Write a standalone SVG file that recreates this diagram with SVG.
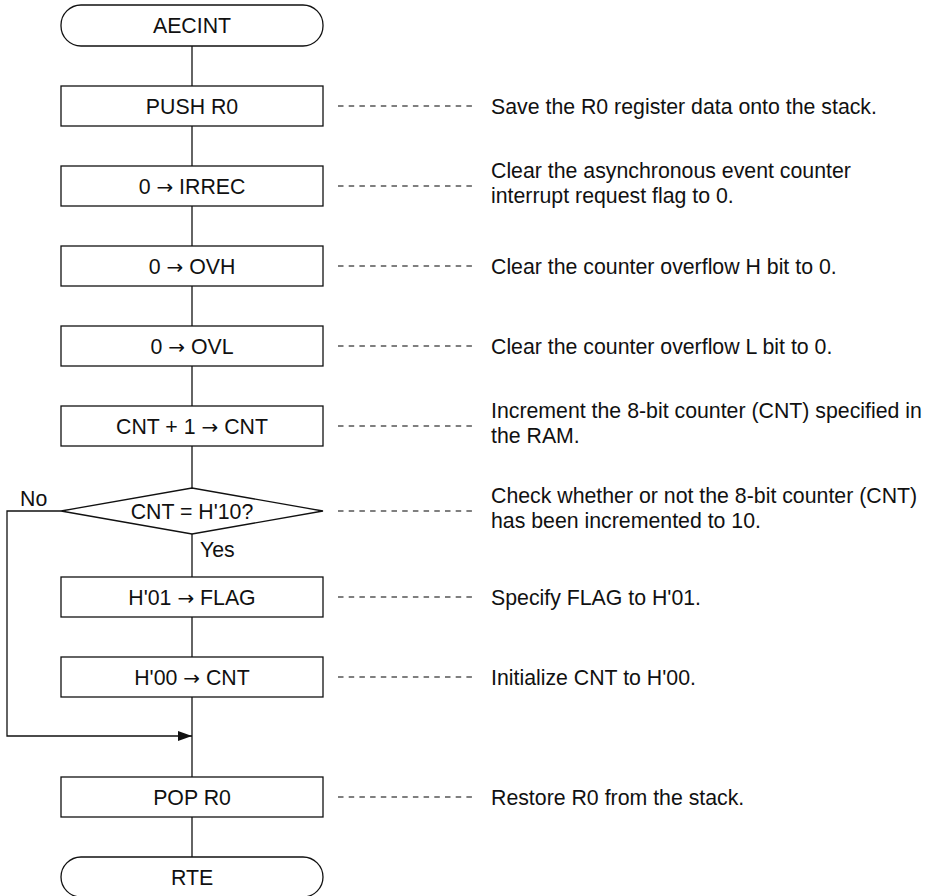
<svg xmlns="http://www.w3.org/2000/svg" width="933" height="896" viewBox="0 0 933 896">
  <style>
    .shape { fill: #fff; stroke: #111; stroke-width: 1.3; }
    .flow { fill: none; stroke: #111; stroke-width: 1.3; }
    .lead { fill: none; stroke: #000; stroke-width: 1.2; stroke-dasharray: 5.5 5.2; }
    text { font-family: "Liberation Sans", Arial, sans-serif; font-size: 21.3px; fill: #111; }
    .c { text-anchor: middle; }
    .sym { font-family: "DejaVu Sans", sans-serif; font-size: 20px; }
  </style>
  <defs>
    <marker id="arrow" markerWidth="14" markerHeight="10" refX="14" refY="5" orient="auto" markerUnits="userSpaceOnUse">
      <path d="M0,0 L14,5 L0,10 Z" fill="#111"/>
    </marker>
  </defs>
  <rect width="933" height="896" fill="#fff"/>

  <!-- flow lines, the "No" loop and the dashed leaders to the notes -->
  <g id="connectors">
    <line class="flow" x1="192" y1="46" x2="192" y2="857"/>
    <polyline class="flow" points="61,511 7,511 7,736 192,736" marker-end="url(#arrow)"/>
    <line class="lead" x1="338" y1="106" x2="472" y2="106"/>
    <line class="lead" x1="338" y1="186" x2="472" y2="186"/>
    <line class="lead" x1="338" y1="266" x2="472" y2="266"/>
    <line class="lead" x1="338" y1="346" x2="472" y2="346"/>
    <line class="lead" x1="338" y1="426" x2="472" y2="426"/>
    <line class="lead" x1="338" y1="511" x2="472" y2="511"/>
    <line class="lead" x1="338" y1="597" x2="472" y2="597"/>
    <line class="lead" x1="338" y1="677" x2="472" y2="677"/>
    <line class="lead" x1="338" y1="797" x2="472" y2="797"/>
    <text x="20" y="506">No</text>
    <text x="200" y="557">Yes</text>
  </g>

  <g id="start">
    <rect class="shape" x="61" y="5" width="262" height="41" rx="20" ry="20"/>
    <text class="c" x="192" y="33">AECINT</text>
  </g>

  <g id="push">
    <rect class="shape" x="61" y="86" width="262" height="40"/>
    <text class="c" x="192" y="114">PUSH R0</text>
    <text x="491" y="114">Save the R0 register data onto the stack.</text>
  </g>

  <g id="clear-irrec">
    <rect class="shape" x="61" y="166" width="262" height="40"/>
    <text class="c" x="192" y="194">0 <tspan class="sym">→</tspan> IRREC</text>
    <text x="491" y="178">Clear the asynchronous event counter</text>
    <text x="491" y="203">interrupt request flag to 0.</text>
  </g>

  <g id="clear-ovh">
    <rect class="shape" x="61" y="246" width="262" height="40"/>
    <text class="c" x="192" y="274">0 <tspan class="sym">→</tspan> OVH</text>
    <text x="491" y="274">Clear the counter overflow H bit to 0.</text>
  </g>

  <g id="clear-ovl">
    <rect class="shape" x="61" y="326" width="262" height="40"/>
    <text class="c" x="192" y="354">0 <tspan class="sym">→</tspan> OVL</text>
    <text x="491" y="354">Clear the counter overflow L bit to 0.</text>
  </g>

  <g id="increment">
    <rect class="shape" x="61" y="406" width="262" height="40"/>
    <text class="c" x="192" y="434">CNT + 1 <tspan class="sym">→</tspan> CNT</text>
    <text x="491" y="418">Increment the 8-bit counter (CNT) specified in</text>
    <text x="491" y="443">the RAM.</text>
  </g>

  <g id="check">
    <polygon class="shape" points="61,511 192,488 323,511 192,534"/>
    <text class="c" x="192" y="519">CNT = H'10?</text>
    <text x="491" y="503">Check whether or not the 8-bit counter (CNT)</text>
    <text x="491" y="528">has been incremented to 10.</text>
  </g>

  <g id="set-flag">
    <rect class="shape" x="61" y="577" width="262" height="40"/>
    <text class="c" x="192" y="605">H'01 <tspan class="sym">→</tspan> FLAG</text>
    <text x="491" y="605">Specify FLAG to H'01.</text>
  </g>

  <g id="reset-cnt">
    <rect class="shape" x="61" y="657" width="262" height="40"/>
    <text class="c" x="192" y="685">H'00 <tspan class="sym">→</tspan> CNT</text>
    <text x="491" y="685">Initialize CNT to H'00.</text>
  </g>

  <g id="pop">
    <rect class="shape" x="61" y="777" width="262" height="40"/>
    <text class="c" x="192" y="805">POP R0</text>
    <text x="491" y="805">Restore R0 from the stack.</text>
  </g>

  <g id="end">
    <rect class="shape" x="61" y="857" width="262" height="40" rx="20" ry="20"/>
    <text class="c" x="192" y="885">RTE</text>
  </g>
</svg>
